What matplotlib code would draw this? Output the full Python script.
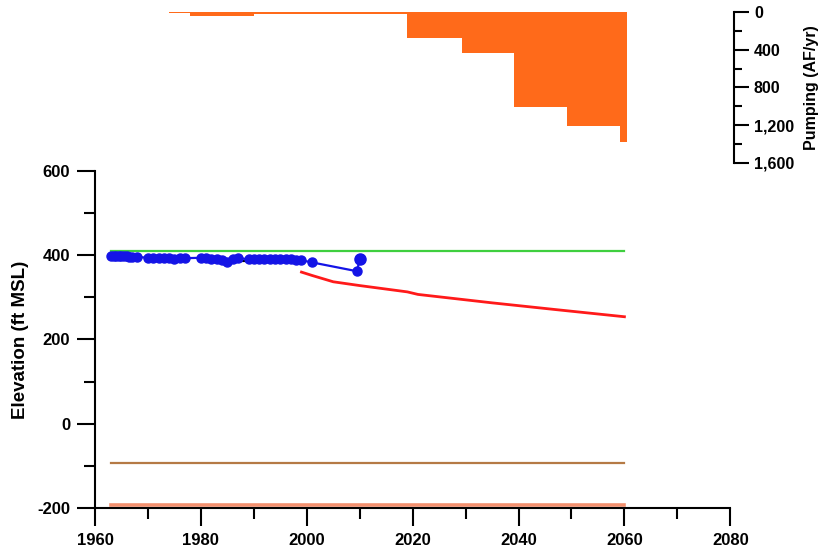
import numpy as np
import matplotlib.pyplot as plt
from matplotlib.ticker import MultipleLocator, FuncFormatter

plt.rcParams['font.family'] = ['Liberation Sans', 'DejaVu Sans']
plt.rcParams['font.weight'] = 'bold'
plt.rcParams['axes.unicode_minus'] = False

# observed water levels (ft MSL)
obs_years = [1963, 1963.5, 1964, 1964.5, 1965, 1965.5, 1966, 1966.5, 1967, 1968, 1970, 1971,
             1972, 1973, 1974, 1975, 1976, 1977, 1980, 1981, 1982, 1983, 1984, 1985,
             1986, 1987, 1989, 1990, 1991, 1992, 1993, 1994, 1995, 1996, 1997, 1998,
             1999, 2001, 2009.5]
obs_vals = [399, 399, 399, 398, 398, 398, 398, 397, 397, 396, 394, 394,
            393, 393, 393, 392, 393, 393, 394, 393, 392, 391, 388, 385,
            392, 394, 390, 391, 392, 392, 391, 390, 390, 391, 390, 389,
            388, 383, 362]
last_year = [2010]
last_val = [392]

# simulated historic (black)
hist_years = [1980, 1990, 1999]
hist_vals = [388, 386, 385]

# projected water level (red)
proj_years = [1999, 2001, 2005, 2010, 2019, 2021, 2035, 2047, 2060]
proj_vals = [360, 352, 337, 328, 313, 307, 287, 271, 254]

# reference elevations
ref_x = [1963, 2060]
green_lvl = 411
brown_lvl = -93
salmon_lvl = -192

# pumping (AF/yr) step edges and values
pump_edges = [1974, 1978, 1990, 1999, 2019, 2029.3, 2039.1, 2049.2, 2059.2, 2060.5]
pump_vals = [10, 40, 25, 22, 275, 434, 1010, 1205, 1375]

fig = plt.figure(figsize=(8.24, 5.57), dpi=100)
ax = fig.add_axes([0.1153, 0.088, 0.771, 0.605])
ax2 = fig.add_axes([0.1153, 0.7074, 0.771, 0.2711])

# main panel
ax.plot(ref_x, [green_lvl] * 2, color='#3fcf3f', lw=1.6, zorder=2)
ax.plot(ref_x, [brown_lvl] * 2, color='#b57a45', lw=1.6, zorder=2)
ax.plot(ref_x, [salmon_lvl] * 2, color='#f2906e', lw=2.6, zorder=2)
ax.plot(proj_years, proj_vals, color='#ff1a1a', lw=2.0, zorder=3)
ax.plot(hist_years, hist_vals, color='black', lw=1.6, zorder=3)
ax.plot(obs_years + last_year, obs_vals + last_val, color='#1414e6', lw=1.6,
        marker='o', ms=6.5, zorder=4)
ax.plot(last_year, last_val, 'o', color='#1414e6', ms=8, zorder=5)

ax.set_xlim(1960, 2080)
ax.set_ylim(-200, 600)
ax.xaxis.set_major_locator(MultipleLocator(20))
ax.xaxis.set_minor_locator(MultipleLocator(10))
ax.yaxis.set_major_locator(MultipleLocator(200))
ax.yaxis.set_minor_locator(MultipleLocator(100))
for s in ['top', 'right']:
    ax.spines[s].set_visible(False)
for s in ['left', 'bottom']:
    ax.spines[s].set_linewidth(1.5)
ax.tick_params(which='major', direction='out', length=13, width=1.5, labelsize=12, pad=5)
ax.tick_params(which='minor', direction='out', length=8, width=1.5)
ax.set_ylabel('Elevation (ft MSL)', fontsize=13.5, fontweight='bold', labelpad=6)

# pumping panel
ax2.stairs(pump_vals, pump_edges, fill=True, color='#ff6a1a', lw=0)
ax2.set_xlim(1960, 2080)
ax2.set_ylim(1600, 0)
ax2.patch.set_alpha(0)
for s in ['top', 'left', 'bottom']:
    ax2.spines[s].set_visible(False)
ax2.spines['right'].set_linewidth(1.5)
ax2.spines['right'].set_position(('outward', 3))
ax2.set_xticks([])
ax2.yaxis.tick_right()
ax2.yaxis.set_label_position('right')
ax2.yaxis.set_major_locator(MultipleLocator(400))
ax2.yaxis.set_minor_locator(MultipleLocator(200))
ax2.yaxis.set_major_formatter(FuncFormatter(lambda v, p: f'{int(v):,}'))
ax2.tick_params(which='major', direction='out', length=11, width=1.5, labelsize=11.5, pad=3)
ax2.tick_params(which='minor', direction='out', length=6, width=1.5)
ax2.set_ylabel('Pumping (AF/yr)', fontsize=11.5, fontweight='bold', labelpad=7)

fig.savefig('out.png', dpi=100)
